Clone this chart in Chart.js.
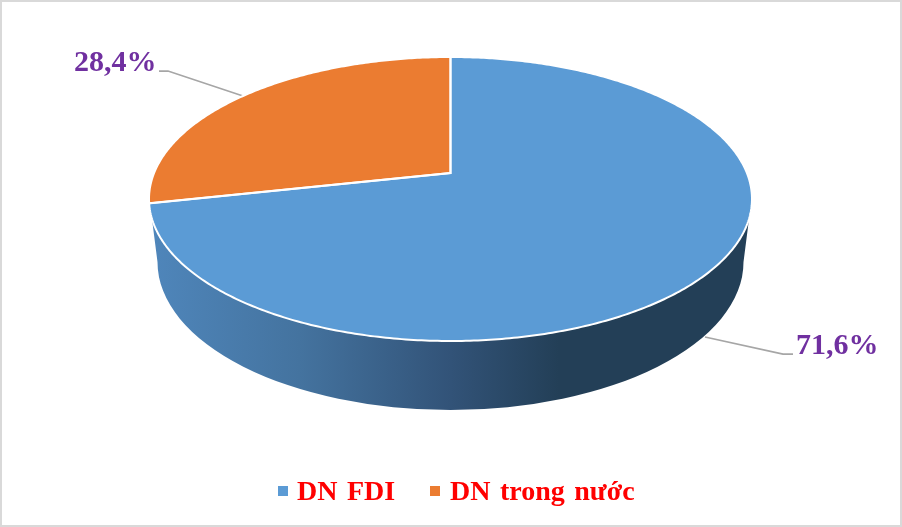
<!DOCTYPE html>
<html>
<head>
<meta charset="utf-8">
<title>DN FDI</title>
<script src="https://cdn.jsdelivr.net/npm/chart.js@4"></script>
<style>
    html, body { margin: 0; padding: 0; background: #fff; }
    #frame { position: relative; width: 902px; height: 527px; box-sizing: border-box; border: 2px solid #d9d9d9; overflow: hidden; }
    #pie { position: absolute; left: -2px; top: -2px; }
</style>
</head>
<body>
<div id="frame"><canvas id="pie" width="902" height="527"></canvas></div>
<script>
const categories = ['DN FDI', 'DN trong nước'];
const shares = [71.6, 28.4];
const sliceColors = ['#5b9bd5', '#eb7c31'];

const FONT = '"Liberation Serif", "Times New Roman", serif';

// the pie is a circle to Chart.js, this turns it into the tilted disc
const STRETCH_X = 301.5 / 142;
const TILT = -0.183;
const BASE = { dy: 63, rx: 293, ry: 148 };

function project(arc, angle) {
    const c = Math.cos(angle), s = Math.sin(angle);
    const k = 1 + TILT * s;
    return [
        arc.x + arc.outerRadius * STRETCH_X * c * Math.sqrt(1 - TILT * TILT) / k,
        arc.y + arc.outerRadius * (s + TILT) / k
    ];
}

function traceFace(ctx, arc) {
    ctx.beginPath();
    ctx.moveTo(arc.x, arc.y + arc.outerRadius * TILT);
    const steps = Math.ceil((arc.endAngle - arc.startAngle) * 90);
    for (let i = 0; i <= steps; i++) {
        const p = project(arc, arc.startAngle + (arc.endAngle - arc.startAngle) * i / steps);
        ctx.lineTo(p[0], p[1]);
    }
    ctx.closePath();
}

function drawWall(ctx, arc) {
    const rx = arc.outerRadius * STRETCH_X, ry = arc.outerRadius;
    const leftX = arc.x - rx * Math.cos(0.14), topY = arc.y + ry * Math.sin(0.14);
    const grad = ctx.createLinearGradient(arc.x - rx, 0, arc.x + rx, 0);
    grad.addColorStop(0, '#4f86bb');
    grad.addColorStop(0.25, '#44739f');
    grad.addColorStop(0.5, '#325378');
    grad.addColorStop(0.68, '#233f57');
    grad.addColorStop(1, '#233f57');
    ctx.beginPath();
    ctx.moveTo(leftX, topY);
    ctx.ellipse(arc.x, arc.y + BASE.dy, BASE.rx, BASE.ry, 0, Math.PI, 0, true);
    ctx.lineTo(arc.x + rx * Math.cos(0.14), topY);
    ctx.closePath();
    ctx.fillStyle = grad;
    ctx.fill();
}

function drawLeader(ctx, points) {
    ctx.beginPath();
    points.forEach((p, i) => i ? ctx.lineTo(p[0], p[1]) : ctx.moveTo(p[0], p[1]));
    ctx.strokeStyle = '#a6a6a6';
    ctx.lineWidth = 1.75;
    ctx.stroke();
}

const tiltedPie = {
    id: 'tiltedPie',
    beforeDatasetsDraw(chart) {
        const ctx = chart.ctx;
        const arcs = chart.getDatasetMeta(0).data;
        ctx.save();
        drawLeader(ctx, [[705, 337], [783, 354], [793, 354]]);
        drawLeader(ctx, [[159, 71], [168, 71], [246, 97]]);
        drawWall(ctx, arcs[0]);
        arcs.forEach((arc, i) => {
            traceFace(ctx, arc);
            ctx.fillStyle = sliceColors[i];
            ctx.fill();
        });
        arcs.forEach(arc => {
            traceFace(ctx, arc);
            ctx.strokeStyle = '#fff';
            ctx.lineWidth = 2;
            ctx.stroke();
        });
        ctx.restore();
        return false;
    },
    afterDraw(chart) {
        const ctx = chart.ctx;
        ctx.save();
        ctx.fillStyle = '#7030a0';
        ctx.font = 'bold 30px ' + FONT;
        ctx.textBaseline = 'alphabetic';
        const labelAt = [[796, 354], [74, 71]];
        shares.forEach((v, i) => {
            ctx.fillText(v.toFixed(1).replace('.', ',') + '%', labelAt[i][0], labelAt[i][1]);
        });

        // legend, the built-in one keeps too wide a gap after the box
        ctx.font = 'bold 28px ' + FONT;
        ctx.wordSpacing = '2.5px';
        const legendAt = [[278, 297], [430, 450]];
        categories.forEach((name, i) => {
            ctx.fillStyle = sliceColors[i];
            ctx.fillRect(legendAt[i][0], 486, 10, 10);
            ctx.fillStyle = '#ff0000';
            ctx.fillText(name, legendAt[i][1], 500);
        });
        ctx.restore();
    }
};

new Chart(document.getElementById('pie').getContext('2d'), {
    type: 'pie',
    data: {
        labels: categories,
        datasets: [{
            data: shares,
            backgroundColor: sliceColors,
            borderWidth: 0
        }]
    },
    options: {
        responsive: false,
        animation: false,
        layout: { padding: { top: 57, bottom: 186, left: 0, right: 1 } },
        plugins: {
            legend: { display: false },
            tooltip: { enabled: false }
        }
    },
    plugins: [tiltedPie]
});
</script>
</body>
</html>
